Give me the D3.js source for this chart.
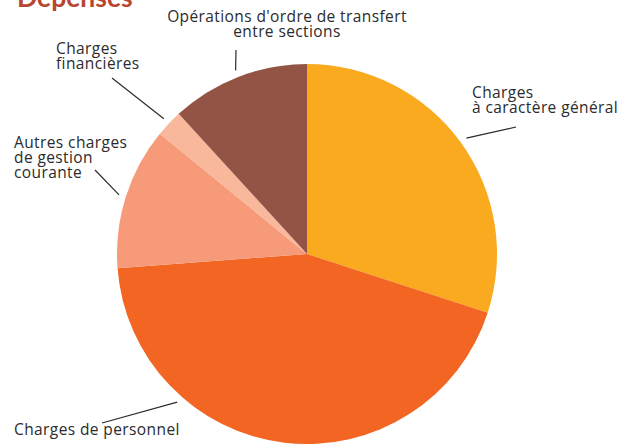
<!DOCTYPE html>
<html>
<head>
<meta charset="utf-8">
<script src="https://cdn.jsdelivr.net/npm/d3@7"></script>
<style>
  body { margin: 0; background: #fff; }
  svg { display: block; }
  .label { font-family: "Open Sans", Lato, sans-serif; font-size: 15.5px; letter-spacing: 0.4px; fill: #2b2b2b; }
  .title { font-family: Lato, "Open Sans", sans-serif; font-size: 26.5px; font-weight: bold; fill: #b8452f; }
</style>
</head>
<body>
<svg width="631" height="444"></svg>
<script>
const categories = [
    "Charges à caractère général",
    "Charges de personnel",
    "Autres charges de gestion courante",
    "Charges financières",
    "Opérations d'ordre de transfert entre sections"
];
const values = [30.0, 43.8, 12.1, 2.3, 11.8];
const colors = ["#f9aa1f", "#f26522", "#f69a79", "#f9b89b", "#935446"];

const svg = d3.select("svg");
const width = 631;
const height = 444;

const cx = 307;
const cy = 254;
const radius = 190;

const pie = d3.pie().sort(null).value(d => d);
const arcs = pie(values);

const arc = d3.arc().innerRadius(0).outerRadius(radius);

const g = svg.append("g").attr("transform", `translate(${cx},${cy})`);

g.selectAll("path")
    .data(arcs)
    .enter()
    .append("path")
    .attr("d", arc)
    .attr("fill", (d, i) => colors[i]);

// label layout: text lines, anchor, text position, leader outer end, leader angle shift
const labels = [
    { lines: ["Charges", "à caractère général"], x: 472, y: 98, anchor: "start", end: [516, 127], shift: 0 },
    { lines: ["Charges de personnel"], x: 14, y: 435, anchor: "start", end: [102, 423], shift: 0.6 },
    { lines: ["Autres charges", "de gestion", "courante"], x: 14, y: 148, anchor: "start", end: [95, 170], shift: 0 },
    { lines: ["Charges", "financières"], x: 56, y: 54, anchor: "start", end: [112, 78], shift: 0 },
    { lines: ["Opérations d'ordre de transfert", "entre sections"], x: 287, y: 22, anchor: "middle", end: [236, 50], shift: 0 }
];

labels.forEach(function(l, i) {
    const a = (arcs[i].startAngle + arcs[i].endAngle) / 2 + l.shift;
    const r = radius + 7;
    const x1 = cx + r * Math.sin(a);
    const y1 = cy - r * Math.cos(a);

    svg.append("line")
        .attr("x1", x1)
        .attr("y1", y1)
        .attr("x2", l.end[0])
        .attr("y2", l.end[1])
        .attr("stroke", "#2b2b2b")
        .attr("stroke-width", 1.2);

    const t = svg.append("text")
        .attr("class", "label")
        .attr("text-anchor", l.anchor)
        .attr("x", l.x)
        .attr("y", l.y);

    l.lines.forEach(function(s, j) {
        t.append("tspan")
            .attr("x", l.x)
            .attr("dy", j === 0 ? 0 : 15)
            .text(s);
    });
});

svg.append("text")
    .attr("class", "title")
    .attr("x", 17)
    .attr("y", 7)
    .text("Dépenses");
</script>
</body>
</html>
